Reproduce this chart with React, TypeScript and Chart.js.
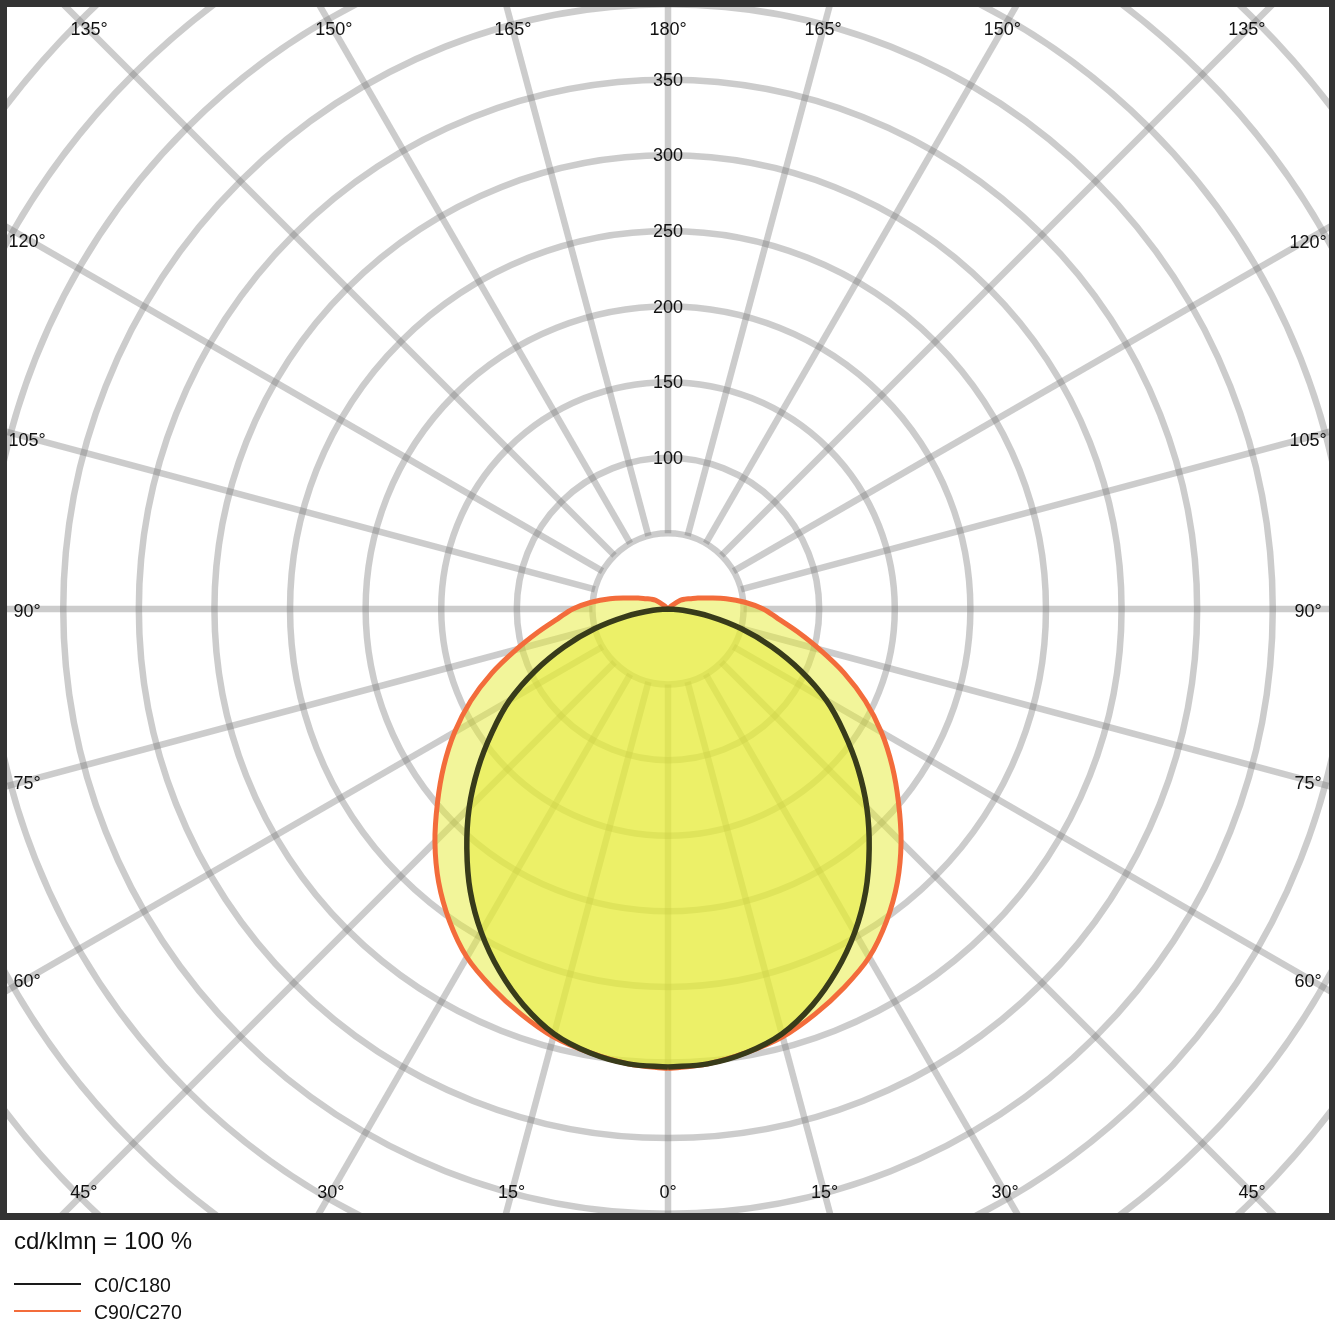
import React, { useEffect, useRef } from "react";
import { Chart, registerables } from "chart.js";

Chart.register(...registerables);

// Polar angles (gamma, degrees from nadir) at which intensities are read
const GAMMA_DEG = [
  0, 5, 10, 15, 20, 25, 30, 35, 40, 45, 50, 55, 60, 65, 70, 75, 80, 85, 90,
  95, 100, 105, 110, 115, 120, 125, 130, 135, 140, 145, 150, 155, 160, 165, 170, 175, 180,
];

// Luminous intensity, cd/klm
const C0_C180 = [
  303, 302, 298, 291, 279, 264, 247, 228, 207, 186, 164, 142, 121, 97, 73, 50, 28, 10, 0,
  0, 0, 0, 0, 0, 0, 0, 0, 0, 0, 0, 0, 0, 0, 0, 0, 0, 0,
];
const C90_C270 = [
  304, 302, 298, 293, 285, 276, 266, 252, 236, 218, 199, 181, 163, 144, 124, 104, 87, 73, 63,
  51, 39, 28, 21, 16, 13, 10, 4, 0, 0, 0, 0, 0, 0, 0, 0, 0, 0,
];

const SERIES_LABELS = ["C0/C180", "C90/C270"];
const RING_VALUES = [50, 100, 150, 200, 250, 300, 350, 400, 450, 500, 550, 600, 650];
const RING_LABELS = [100, 150, 200, 250, 300, 350];
const ANGLE_TICKS = [0, 15, 30, 45, 60, 75, 90, 105, 120, 135, 150, 165, 180];
const UNIT_TEXT = "cd/klmη = 100 %";

const FONT = '"Liberation Sans", Arial, Helvetica, sans-serif';
const GRID_COLOR = "rgba(120,120,120,0.38)";
const BLACK_LINE = "#383b1a";
const ORANGE_LINE = "#f36c3b";
const FILL = "rgba(229,235,53,0.5)";

function curve(values: number[]) {
  const side = (s: number) =>
    GAMMA_DEG.map((g, i) => {
      const a = (g * Math.PI) / 180;
      return { x: s * values[i] * Math.sin(a), y: -values[i] * Math.cos(a) };
    });
  return [...side(1), ...side(-1).reverse()];
}

const polarGrid = {
  id: "polarGrid",
  beforeDraw(chart: any) {
    const { ctx, chartArea: a, scales } = chart;
    const sx = scales.x;
    const sy = scales.y;
    const cx = sx.getPixelForValue(0);
    const cy = sy.getPixelForValue(0);
    const rp = (v: number) => sx.getPixelForValue(v) - cx;
    ctx.save();
    ctx.fillStyle = "#ffffff";
    ctx.fillRect(0, 0, chart.width, chart.height);
    ctx.beginPath();
    ctx.rect(a.left, a.top, a.right - a.left, a.bottom - a.top);
    ctx.clip();
    ctx.strokeStyle = GRID_COLOR;
    ctx.lineWidth = 6.5;
    for (const v of RING_VALUES) {
      ctx.beginPath();
      ctx.arc(cx, cy, rp(v), 0, Math.PI * 2);
      ctx.stroke();
    }
    const r0 = rp(RING_VALUES[0]);
    const r1 = rp(RING_VALUES[RING_VALUES.length - 1]);
    for (const g of ANGLE_TICKS) {
      const sides = g === 0 || g === 180 ? [1] : [1, -1];
      for (const s of sides) {
        const ang = (g * Math.PI) / 180;
        const dx = s * Math.sin(ang);
        const dy = Math.cos(ang);
        ctx.beginPath();
        ctx.moveTo(cx + dx * r0, cy + dy * r0);
        ctx.lineTo(cx + dx * r1, cy + dy * r1);
        ctx.stroke();
      }
    }
    ctx.restore();
  },
  afterDraw(chart: any) {
    const { ctx, chartArea: a, scales } = chart;
    const sx = scales.x;
    const sy = scales.y;
    const cx = sx.getPixelForValue(0);
    const cy = sy.getPixelForValue(0);
    const rp = (v: number) => sx.getPixelForValue(v) - cx;
    ctx.save();
    ctx.fillStyle = "#111111";
    ctx.font = `18px ${FONT}`;
    ctx.textAlign = "center";
    ctx.textBaseline = "middle";
    for (const v of RING_LABELS) {
      ctx.fillText(String(v), cx, cy - rp(v) + 1);
    }
    const L = a.left + 20;
    const R = a.right - 21;
    const T = a.top + 23;
    const B = a.bottom - 20;
    for (const g of ANGLE_TICKS) {
      const sides = g === 0 || g === 180 ? [1] : [1, -1];
      for (const s of sides) {
        const ang = (g * Math.PI) / 180;
        const dx = s * Math.sin(ang);
        const dy = Math.cos(ang);
        const ts: number[] = [];
        if (dx > 1e-9) ts.push((R - cx) / dx);
        if (dx < -1e-9) ts.push((L - cx) / dx);
        if (dy > 1e-9) ts.push((B - cy) / dy);
        if (dy < -1e-9) ts.push((T - cy) / dy);
        const t = Math.min(...ts);
        const px = cx + dx * t;
        let py = cy + dy * t;
        const onSide = Math.abs(px - L) < 0.5 || Math.abs(px - R) < 0.5;
        if (onSide) py += 3.5;
        ctx.fillText(`${g}°`, px, py);
      }
    }
    ctx.strokeStyle = "#333333";
    ctx.lineWidth = 7;
    ctx.strokeRect(a.left - 3.5, a.top - 3.5, a.right - a.left + 7, a.bottom - a.top + 7);
    ctx.textAlign = "left";
    ctx.fillStyle = "#111111";
    ctx.font = `24px ${FONT}`;
    ctx.fillText(UNIT_TEXT, 14, a.bottom + 29);
    const legendColors = ["#1a1a1a", ORANGE_LINE];
    ctx.font = `19.5px ${FONT}`;
    SERIES_LABELS.forEach((lab, i) => {
      const ly = a.bottom + 71 + i * 27;
      ctx.strokeStyle = legendColors[i];
      ctx.lineWidth = 2;
      ctx.beginPath();
      ctx.moveTo(14, ly);
      ctx.lineTo(81, ly);
      ctx.stroke();
      ctx.fillText(lab, 94, ly + 3);
    });
    ctx.restore();
  },
};

export default function App() {
  const ref = useRef<HTMLCanvasElement | null>(null);
  useEffect(() => {
    document.body.style.margin = "0";
    if (!ref.current) return;
    const chart = new Chart(ref.current, {
      type: "scatter",
      data: {
        datasets: [
          {
            label: SERIES_LABELS[0],
            data: curve(C0_C180),
            showLine: true,
            borderColor: BLACK_LINE,
            borderWidth: 5.5,
            backgroundColor: FILL,
            fill: "shape",
            pointRadius: 0,
            tension: 0.35,
          },
          {
            label: SERIES_LABELS[1],
            data: curve(C90_C270),
            showLine: true,
            borderColor: ORANGE_LINE,
            borderWidth: 5,
            backgroundColor: FILL,
            fill: "shape",
            pointRadius: 0,
            tension: 0.35,
          },
        ],
      },
      options: {
        animation: false,
        responsive: false,
        layout: { padding: { left: 7, top: 7, right: 6, bottom: 122 } },
        scales: {
          x: { type: "linear", display: false, min: -437.2, max: 437.2 },
          y: { type: "linear", display: false, min: -399.5, max: 398.1 },
        },
        plugins: {
          legend: { display: false },
          tooltip: { enabled: false },
          filler: { drawTime: "beforeDatasetsDraw" },
        },
      },
      plugins: [polarGrid],
    } as any);
    return () => chart.destroy();
  }, []);
  return <canvas ref={ref} width={1335} height={1335} style={{ display: "block" }} />;
}
